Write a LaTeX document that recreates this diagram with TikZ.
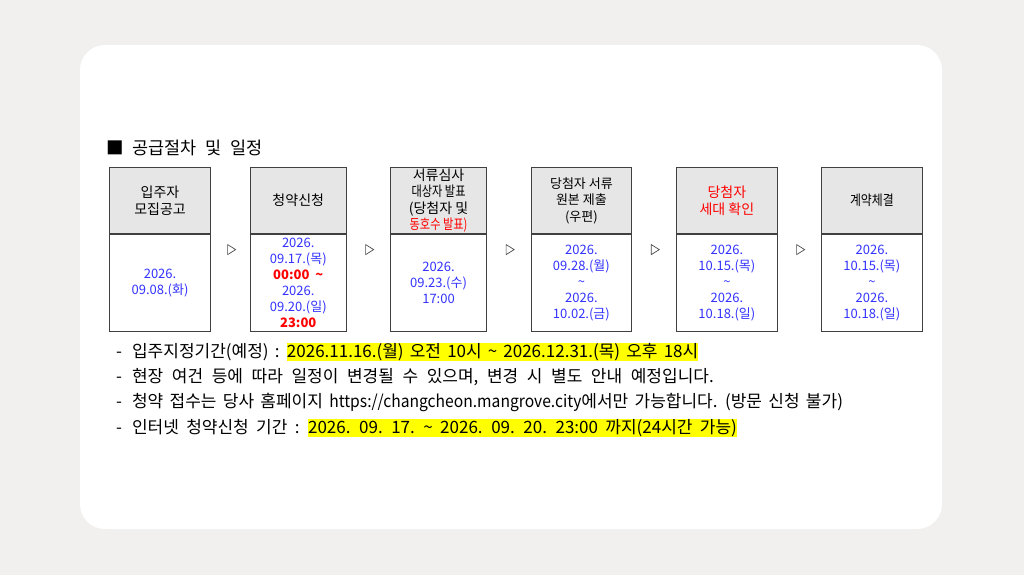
\documentclass[tikz,border=0pt]{standalone}
\usepackage{fontspec}
\setmainfont{Noto Sans CJK KR}
\usepackage{graphicx}
\usetikzlibrary{positioning, calc, shapes.geometric}
\definecolor{datblue}{RGB}{51, 51, 255}
\definecolor{hotred}{RGB}{255, 0, 0}
\definecolor{headgray}{RGB}{230, 230, 230}
\definecolor{edgegray}{RGB}{64, 64, 64}
\definecolor{pagebg}{RGB}{241, 240, 239}
\definecolor{marker}{RGB}{255, 255, 0}

\newcommand{\hlite}[1]{{\setlength{\fboxsep}{0pt}\colorbox{marker}{\rule[-3.5pt]{0pt}{16pt}#1}}}
\newcommand{\squeeze}[2][0.8]{\scalebox{#1}[1]{#2}}
\newcommand{\wave}{\textasciitilde}
\newcommand{\itemdash}{-\hspace{10pt}}
\newcommand{\notefont}{\fontsize{17}{20}\selectfont\setlength{\spaceskip}{0.42em}}
\newcommand{\gap}[1]{\setlength{\spaceskip}{#1}}
\newcommand{\titlefont}{\fontsize{17.5}{20}\selectfont\setlength{\spaceskip}{0.5em}}

\tikzset{
  hdr/.style={draw=edgegray, line width=1.1pt, fill=headgray, anchor=north west,
    minimum height=66pt, align=center, inner sep=0pt, font=\fontsize{14}{16.5}\selectfont},
  day/.style={draw=edgegray, line width=1.1pt, fill=white, minimum height=97pt,
    align=center, inner sep=0pt, text=datblue, font=\fontsize{13}{16}\selectfont},
  tri/.style={draw=gray!60!black, line width=0.7pt, isosceles triangle, isosceles triangle stretches,
    minimum width=10pt, minimum height=8pt, inner sep=0pt},
  note/.style={anchor=west, inner sep=0pt, font=\notefont},
}

\begin{document}
\begin{tikzpicture}[x=1pt, y=-1pt]
  % page and card
  \fill[pagebg] (0, 0) rectangle (1024, 575);
  \fill[white, rounded corners=25pt] (80, 45) rectangle (942, 529);

  % title
  \node[note, font=\titlefont] (title) at (106, 148) {■ 공급절차 및 일정};

  % process boxes
  \node[hdr, minimum width=101pt] (hdr1) at (109, 167) {입주자\\모집공고};
  \node[day, minimum width=101pt, below=0pt of hdr1] (day1) {2026.\\09.08.(화)};

  \node[hdr, minimum width=96pt] (hdr2) at (249.7, 167) {청약신청};
  \node[day, minimum width=96pt, below=0pt of hdr2] (day2) {2026.\\09.17.(목)\\{\color{hotred}\bfseries 00:00\ \ \wave}\\2026.\\09.20.(일)\\{\color{hotred}\bfseries 23:00}};

  \node[hdr, minimum width=96pt] (hdr3) at (390, 167) {서류심사\\\squeeze{대상자 발표}\\(당첨자 및\\{\color{hotred}\squeeze{동호수 발표)}}};
  \node[day, minimum width=96pt, below=0pt of hdr3] (day3) {2026.\\09.23.(수)\\17:00};

  \node[hdr, minimum width=100.3pt, font=\fontsize{13}{16.5}\selectfont] (hdr4) at (530.7, 167) {당첨자 서류\\원본 제출\\(우편)};
  \node[day, minimum width=100.3pt, below=0pt of hdr4] (day4) {2026.\\09.28.(월)\\\wave\\2026.\\10.02.(금)};

  \node[hdr, minimum width=100.7pt, text=hotred] (hdr5) at (676, 167) {당첨자\\세대 확인};
  \node[day, minimum width=100.7pt, below=0pt of hdr5] (day5) {2026.\\10.15.(목)\\\wave\\2026.\\10.18.(일)};

  \node[hdr, minimum width=100.7pt] (hdr6) at (821, 167) {\squeeze[0.85]{계약체결}};
  \node[day, minimum width=100.7pt, below=0pt of hdr6] (day6) {2026.\\10.15.(목)\\\wave\\2026.\\10.18.(일)};

  % step markers
  \node[tri] (go1) at ($(hdr1.north east)!0.5!(day2.south west)$) {};
  \node[tri] (go2) at ($(hdr2.north east)!0.5!(day3.south west)$) {};
  \node[tri] (go3) at ($(hdr3.north east)!0.5!(day4.south west)$) {};
  \node[tri] (go4) at ($(hdr4.north east)!0.5!(day5.south west)$) {};
  \node[tri] (go5) at ($(hdr5.north east)!0.5!(day6.south west)$) {};

  % notes
  \node[note] (note1) at (116, 352) {\gap{0.36em}\itemdash 입주지정기간(예정) : \hlite{2026.11.16.(월) 오전 10시 \wave{} 2026.12.31.(목) 오후 18시}};
  \node[note] (note2) at (116, 377) {\gap{0.505em}\itemdash 현장 여건 등에 따라 일정이 변경될 수 있으며, 변경 시 별도 안내 예정입니다.};
  \node[note] (note3) at (116, 402) {\gap{0.37em}\itemdash 청약 접수는 당사 홈페이지 \squeeze[0.92]{https://changcheon.mangrove.city}에서만 가능합니다. (방문 신청 불가)};
  \node[note] (note4) at (116, 428) {\gap{0.43em}\itemdash 인터넷 청약신청 기간 : \hlite{2026. 09. 17. \wave{} 2026. 09. 20. 23:00 까지(24시간 가능)}};
\end{tikzpicture}
\end{document}
